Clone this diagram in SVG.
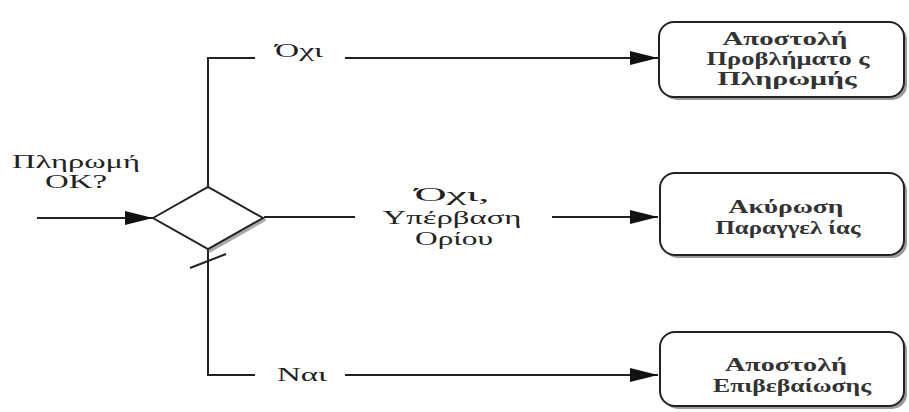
<svg xmlns="http://www.w3.org/2000/svg" width="909" height="412" viewBox="0 0 909 412">
<defs>
<marker id="ah" markerUnits="userSpaceOnUse" markerWidth="28" markerHeight="14" refX="28" refY="7" orient="auto">
<path d="M0,0 L28,7 L0,14 z" fill="#111"/>
</marker>
<style>
.ln{fill:none;stroke:#222;stroke-width:2}
.lbl{font-family:"Liberation Serif","DejaVu Serif",serif;font-size:18px;fill:#222;text-anchor:middle}
.bt{font-family:"Liberation Serif","DejaVu Serif",serif;font-size:18px;font-weight:bold;fill:#333;text-anchor:middle}
.box{fill:#fff;stroke:#222;stroke-width:2}
.sh{fill:#9a9a9a}
</style>
</defs>
<rect width="909" height="412" fill="#fff"/>
<g id="connectors">
<line class="ln" x1="37" y1="218" x2="153" y2="218" marker-end="url(#ah)"/>
<polyline class="ln" points="208,187 208,58 255,58"/>
<line class="ln" x1="345" y1="58" x2="658" y2="58" marker-end="url(#ah)"/>
<line class="ln" x1="264" y1="217" x2="355" y2="217"/>
<line class="ln" x1="552" y1="217" x2="658" y2="217" marker-end="url(#ah)"/>
<polyline class="ln" points="208,249 208,375 255,375"/>
<line class="ln" x1="345" y1="375" x2="658" y2="375" marker-end="url(#ah)"/>
<line class="ln" x1="190" y1="268" x2="226" y2="254"/>
<text class="lbl" x="299" y="57" textLength="48" lengthAdjust="spacingAndGlyphs" font-size="17">Όχι</text>
<text class="lbl" x="452" y="201" textLength="75" lengthAdjust="spacingAndGlyphs">Όχι,</text>
<text class="lbl" x="452" y="224" textLength="139" lengthAdjust="spacingAndGlyphs">Υπέρβαση</text>
<text class="lbl" x="454" y="245" textLength="78" lengthAdjust="spacingAndGlyphs">Ορίου</text>
<text class="lbl" x="302" y="381" textLength="50" lengthAdjust="spacingAndGlyphs">Ναι</text>
</g>
<g id="decision">
<polyline points="265,219 209,251" fill="none" stroke="#aaa" stroke-width="4"/>
<polygon class="box" points="153,218 208,187 263,218 208,249"/>
<text class="lbl" x="76" y="168" textLength="128" lengthAdjust="spacingAndGlyphs" font-size="19">Πληρωμή</text>
<text class="lbl" x="76" y="188" textLength="62" lengthAdjust="spacingAndGlyphs" font-size="19">OK?</text>
</g>
<g id="box1">
<rect class="sh" x="662" y="25" width="245" height="75" rx="15"/>
<rect class="box" x="659" y="22" width="245" height="75" rx="15"/>
<text class="bt" x="785" y="45" textLength="125" lengthAdjust="spacingAndGlyphs">Αποστολή</text>
<text class="bt" x="788" y="65" textLength="163" lengthAdjust="spacingAndGlyphs">Προβλήματο ς</text>
<text class="bt" x="787" y="85" textLength="139" lengthAdjust="spacingAndGlyphs">Πληρωμής</text>
</g>
<g id="box2">
<rect class="sh" x="663" y="176" width="244" height="82" rx="15"/>
<rect class="box" x="660" y="173" width="244" height="82" rx="15"/>
<text class="bt" x="786" y="213" textLength="115" lengthAdjust="spacingAndGlyphs">Ακύρωση</text>
<text class="bt" x="788" y="234" textLength="145" lengthAdjust="spacingAndGlyphs">Παραγγελ ίας</text>
</g>
<g id="box3">
<rect class="sh" x="663" y="335" width="244" height="74" rx="15"/>
<rect class="box" x="660" y="332" width="244" height="74" rx="15"/>
<text class="bt" x="786" y="371" textLength="122" lengthAdjust="spacingAndGlyphs">Αποστολή</text>
<text class="bt" x="792" y="392" textLength="158" lengthAdjust="spacingAndGlyphs">Επιβεβαίωσης</text>
</g>
</svg>
